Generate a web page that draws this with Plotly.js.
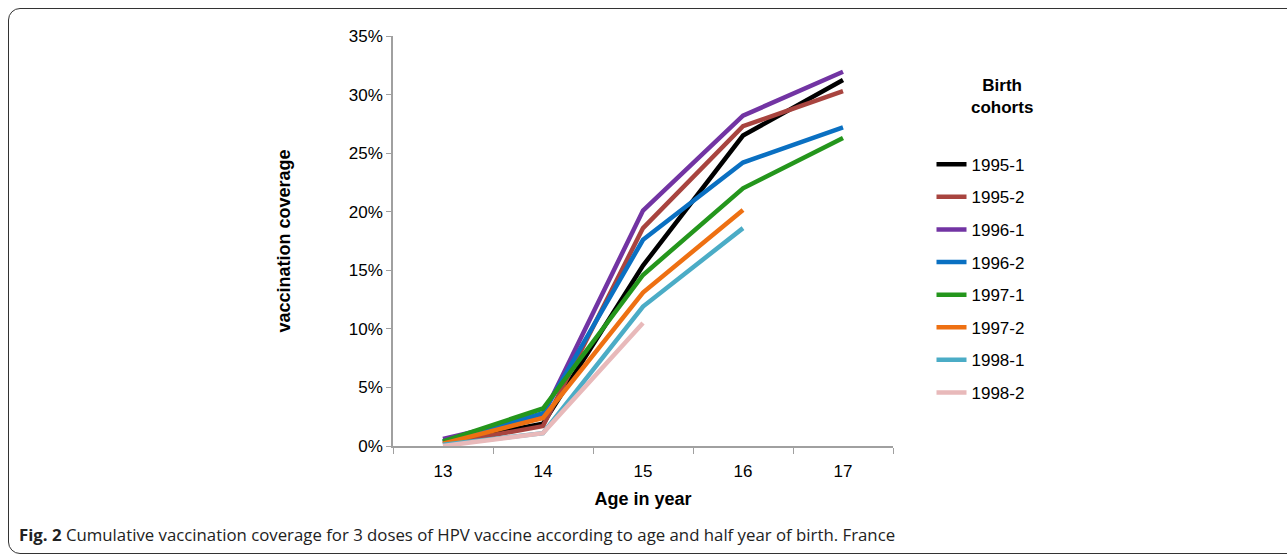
<!DOCTYPE html>
<html>
<head>
<meta charset="utf-8">
<script src="https://cdn.plot.ly/plotly-3.0.1.min.js"></script>
<style>
  html, body { margin: 0; padding: 0; background: #fff; }
  #wrap { position: relative; width: 1287px; height: 554px; overflow: hidden; }
  #frame { position: absolute; left: 8px; top: 8px; width: 1310px; height: 546px;
           border: 1.5px solid #333; border-radius: 12px; box-sizing: border-box; pointer-events: none; }
  #chart { position: absolute; left: 0; top: 0; width: 1287px; height: 554px; }
</style>
</head>
<body>
<div id="wrap">
  <div id="chart"></div>
  <div id="frame"></div>
</div>
<script>
// Categories (age in years)
const ages = ['13', '14', '15', '16', '17'];
// Birth cohorts (series names)
const cohorts = ['1995-1', '1995-2', '1996-1', '1996-2', '1997-1', '1997-2', '1998-1', '1998-2'];
// Cumulative coverage (%) per cohort
const c1995_1 = [0.3, 1.9, 15.4, 26.5, 31.25];
const c1995_2 = [0.15, 1.7, 18.6, 27.3, 30.3];
const c1996_1 = [0.6, 2.6, 20.1, 28.2, 31.95];
const c1996_2 = [0.4, 2.8, 17.6, 24.2, 27.2];
const c1997_1 = [0.4, 3.2, 14.6, 22.0, 26.3];
const c1997_2 = [0.2, 2.4, 13.1, 20.15, null];
const c1998_1 = [0.1, 1.1, 11.9, 18.6, null];
const c1998_2 = [0.0, 1.1, 10.5, null, null];
// Y tick labels
const yTickVals = [0, 5, 10, 15, 20, 25, 30, 35];
const yTickText = ['0%', '5%', '10%', '15%', '20%', '25%', '30%', '35%'];

const series = [c1995_1, c1995_2, c1996_1, c1996_2, c1997_1, c1997_2, c1998_1, c1998_2];
const colors = ['#000000', '#A8443F', '#7234A3', '#0A70C2', '#24961C', '#EE7012', '#4BACC6', '#E8B9BA'];

const font = 'Liberation Sans, Arial, Helvetica, sans-serif';

const traces = series.map((vals, i) => ({
  type: 'scatter',
  mode: 'lines',
  x: ages,
  y: vals,
  name: cohorts[i],
  legendgroup: 'g' + i,
  line: { color: colors[i], width: 4.5 },
  connectgaps: false,
  hoverinfo: 'x+y+name'
}));

const layout = {
  width: 1287,
  height: 554,
  margin: { l: 393, r: 394, t: 36, b: 108 },
  paper_bgcolor: '#ffffff',
  plot_bgcolor: '#ffffff',
  font: { family: font, size: 17, color: '#000' },
  showlegend: true,
  legend: {
    x: 1.077, xanchor: 'left',
    y: 0.73, yanchor: 'top',
    traceorder: 'grouped',
    tracegroupgap: 7.5,
    font: { family: font, size: 17, color: '#000' },
    itemwidth: 30,
    bgcolor: 'rgba(0,0,0,0)'
  },
  xaxis: {
    type: 'category',
    range: [-0.5, 4.5],
    tickson: 'boundaries',
    ticks: 'outside',
    ticklen: 6,
    tickcolor: '#a0a0a0',
    ticklabelstandoff: 9,
    showline: true,
    linecolor: '#a0a0a0',
    linewidth: 1.5,
    showgrid: false,
    zeroline: false,
    tickfont: { family: font, size: 17, color: '#000' },
    title: { text: '<b>Age in year</b>', font: { family: font, size: 18, color: '#000' }, standoff: 12 },
    fixedrange: true
  },
  yaxis: {
    range: [0, 35],
    tickvals: yTickVals,
    ticktext: yTickText,
    ticks: 'outside',
    ticklen: 5,
    tickcolor: '#a0a0a0',
    showline: true,
    linecolor: '#a0a0a0',
    linewidth: 1.5,
    showgrid: false,
    zeroline: false,
    tickfont: { family: font, size: 17, color: '#000' },
    title: { text: '<b>vaccination coverage</b>', font: { family: font, size: 18, color: '#000' }, standoff: 54 },
    fixedrange: true
  },
  annotations: [
    {
      text: '<b>Birth<br>cohorts</b>',
      xref: 'paper', yref: 'paper',
      x: 1.218, y: 0.908, xanchor: 'center', yanchor: 'top',
      showarrow: false,
      font: { family: font, size: 17, color: '#000' },
      align: 'center'
    },
    {
      text: '<b>Fig. 2</b> Cumulative vaccination coverage for 3 doses of HPV vaccine according to age and half year of birth. France',
      xref: 'paper', yref: 'paper',
      x: -0.752, y: -0.217, xanchor: 'left', yanchor: 'middle',
      showarrow: false,
      font: { family: 'Open Sans, Noto Sans, sans-serif', size: 16.8, color: '#222' }
    }
  ]
};

Plotly.newPlot('chart', traces, layout, { displayModeBar: false, staticPlot: false });
</script>
</body>
</html>
